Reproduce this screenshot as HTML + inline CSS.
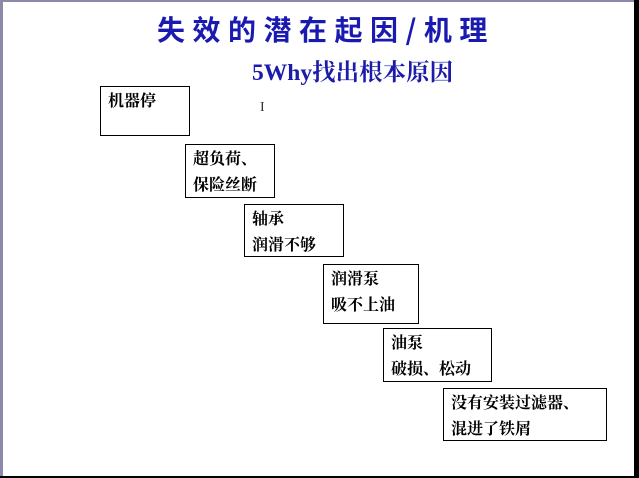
<!DOCTYPE html>
<html><head><meta charset="utf-8"><style>
html,body{margin:0;padding:0}
body{width:639px;height:478px;position:relative;background:#fff;overflow:hidden;font-family:"Liberation Serif","Noto Serif CJK SC",serif}
.b{position:absolute;border:1px solid #000;box-sizing:border-box;font-size:16px;line-height:26px;padding:2px 0 0 7px;color:#000;font-weight:bold;font-family:"Liberation Serif","Noto Serif CJK SC",serif}
</style></head><body>
<div style="position:absolute;left:0;top:0;width:3px;height:478px;background:#8a8aa8"></div>
<div style="position:absolute;left:0;top:0;width:639px;height:2px;background:#8a8aa8"></div>
<div style="position:absolute;right:0;top:0;width:5px;height:478px;background:#000"></div>
<div style="position:absolute;left:0;bottom:0;width:639px;height:2px;background:#000"></div>
<div style="position:absolute;left:157px;top:12px;font-size:28px;font-weight:bold;color:#1a1ab0;letter-spacing:7.5px;font-family:'Noto Sans CJK SC',sans-serif;line-height:34px;white-space:nowrap">失效的潜在起因/机理</div>
<div style="position:absolute;left:252px;top:58px;font-size:23.5px;font-weight:bold;color:#1c1ca8;line-height:30px;white-space:nowrap;font-family:'Liberation Serif','Noto Serif CJK SC',serif">5Why找出根本原因</div>
<div style="position:absolute;left:260px;top:100px;font-size:14px;color:#333">I</div>
<div class="b" style="left:100px;top:86px;width:90px;height:50px">机器停</div>
<div class="b" style="left:185px;top:144px;width:90px;height:54px">超负荷、<br>保险丝断</div>
<div class="b" style="left:244px;top:204px;width:100px;height:53px">轴承<br>润滑不够</div>
<div class="b" style="left:323px;top:264px;width:96px;height:60px">润滑泵<br>吸不上油</div>
<div class="b" style="left:383px;top:328px;width:109px;height:54px">油泵<br>破损、松动</div>
<div class="b" style="left:443px;top:388px;width:164px;height:53px">没有安装过滤器、<br>混进了铁屑</div>
</body></html>
